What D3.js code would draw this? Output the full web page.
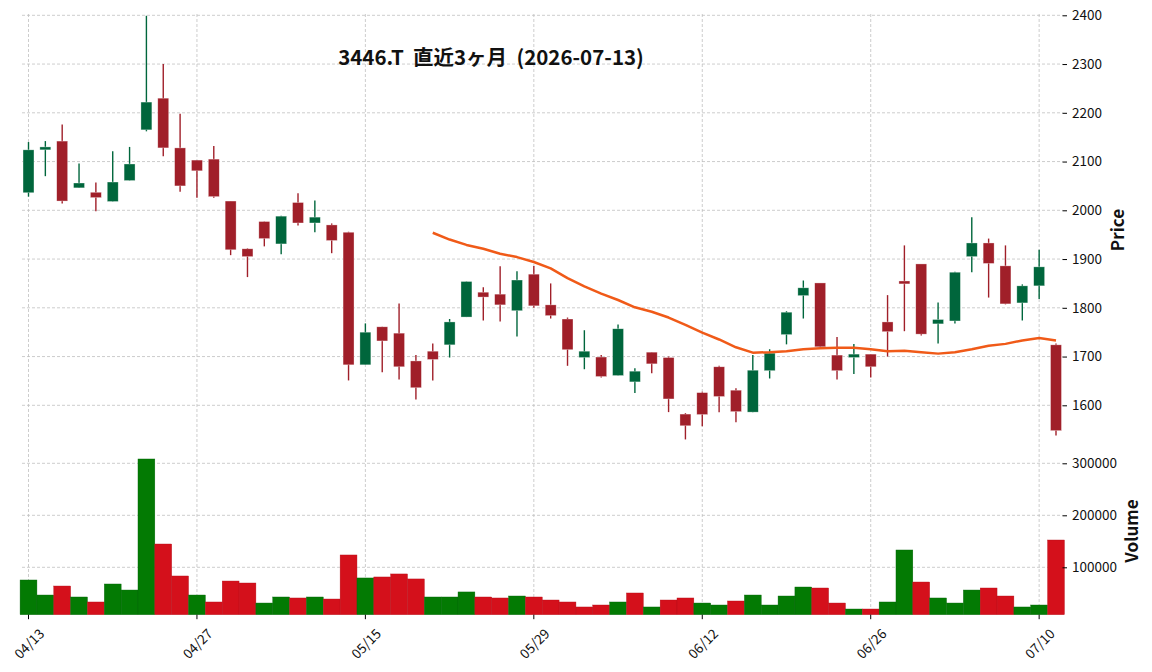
<!DOCTYPE html>
<html>
<head>
<meta charset="utf-8">
<script src="https://cdn.jsdelivr.net/npm/d3@7"></script>
<style>
  html, body { margin: 0; padding: 0; background: #ffffff; }
  svg { display: block; }
  text { font-family: "Noto Sans CJK JP", "Noto Sans", sans-serif; }
</style>
</head>
<body>
<svg id="chart" width="1152" height="672"></svg>
<script>
// ---------------- data ----------------
const titleText = "3446.T  直近3ヶ月  (2026-07-13)";

const dates = ["04/13","04/14","04/15","04/16","04/17","04/20","04/21","04/22","04/23","04/24",
  "04/27","04/28","04/30","05/01","05/07","05/08","05/11","05/12","05/13","05/14",
  "05/15","05/18","05/19","05/20","05/21","05/22","05/25","05/26","05/27","05/28",
  "05/29","06/01","06/02","06/03","06/04","06/05","06/08","06/09","06/10","06/11",
  "06/12","06/15","06/16","06/17","06/18","06/19","06/22","06/23","06/24","06/25",
  "06/26","06/29","06/30","07/01","07/02","07/03","07/06","07/07","07/08","07/09",
  "07/10","07/13"];

const opens = [2036,2124,2142,2046,2037,2018,2061,2165,2230,2128,
  2103,2105,2019,1921,1977,1931,2016,1974,1970,1955,
  1683,1761,1748,1691,1711,1724,1781,1832,1828,1794,
  1869,1806,1777,1698,1699,1661,1648,1709,1698,1582,
  1626,1679,1631,1586,1671,1745,1825,1851,1703,1698,
  1705,1771,1855,1890,1767,1773,1905,1933,1886,1810,
  1845,1724];

const highs = [2140,2142,2176,2096,2057,2121,2130,2399,2300,2198,
  2103,2132,2019,1922,1977,1989,2035,2020,1973,1956,
  1768,1761,1809,1703,1727,1777,1854,1842,1885,1875,
  1886,1850,1780,1754,1703,1766,1676,1709,1700,1584,
  1628,1681,1635,1703,1715,1793,1856,1851,1740,1726,
  1705,1826,1928,1890,1811,1874,1986,1942,1928,1848,
  1919,1727];

const lows = [2028,2070,2014,2046,1998,2018,2061,2162,2111,2038,
  2026,2026,1908,1863,1926,1910,1969,1955,1912,1651,
  1683,1668,1653,1612,1651,1698,1781,1774,1772,1741,
  1800,1778,1681,1674,1657,1661,1625,1666,1586,1530,
  1557,1586,1565,1586,1655,1725,1778,1719,1653,1664,
  1657,1700,1752,1743,1727,1768,1873,1821,1807,1774,
  1818,1538];

const closes = [2124,2130,2019,2056,2026,2058,2095,2222,2128,2050,
  2081,2028,1919,1905,1942,1988,1974,1986,1938,1683,
  1750,1732,1679,1636,1694,1771,1854,1822,1806,1857,
  1804,1784,1714,1711,1659,1757,1670,1685,1613,1558,
  1581,1618,1587,1672,1707,1791,1841,1720,1671,1705,
  1679,1751,1849,1746,1776,1873,1933,1891,1808,1845,
  1884,1548];

const volumes = [75600,46700,64000,42900,33300,67900,56300,308300,144800,83300,
  46700,33300,73600,69800,31300,42900,41000,42900,39000,123700,
  79500,81400,87200,77600,42900,42900,52600,42900,41000,44800,
  42900,37100,33300,23700,27500,33300,50600,23700,37100,41000,
  31300,27500,35200,46700,27500,44800,62100,60200,31300,19800,
  19800,33300,133300,71700,41000,31300,56300,60200,44800,23700,
  27500,152500];

// 25-day moving average as drawn (starts at index 24)
const maStart = 24;
const ma25 = [1954,1940,1929,1921,1911,1904,1894,1881,1861,1844,
  1829,1816,1801,1792,1780,1765,1749,1735,1719,1708,
  1709,1711,1715,1717,1718,1718,1715,1711,1712,1709,
  1706,1709,1715,1722,1726,1733,1738,1733];

const xTickIdx = [0,10,20,30,40,50,60];
const priceTicks = [1600,1700,1800,1900,2000,2100,2200,2300,2400];
const volumeTicks = [100000,200000,300000];

// ---------------- layout ----------------
const C = {
  left: 22, right: 1062.5,
  pTop: 14, pBottom: 442,
  vTop: 442, vBottom: 614.7,
  upCandle: "#00663c", downCandle: "#a01f29",
  upVol: "#037a03", downVol: "#d4101b",
  ma: "#f05a18", grid: "#c0c0c0", text: "#111111"
};

const svg = d3.select("#chart");
svg.append("rect").attr("width", 1152).attr("height", 672).attr("fill", "#fff");

const n = dates.length;
const x = d3.scaleLinear().domain([-0.386, n - 1 + 0.386]).range([C.left, C.right]);
const step = x(1) - x(0);

// price: 2400 -> 15.3, 1600 -> 405.3
const yP = d3.scaleLinear().domain([1600, 2400]).range([405.3, 15.3]);
// volume: 0 -> 619.3, 100000 -> 567.3
const yV = d3.scaleLinear().domain([0, 100000]).range([619.3, 567.3]);
const vBase = yV.invert(C.vBottom);

// ---------------- grid ----------------
const grid = svg.append("g").attr("stroke", C.grid).attr("stroke-width", 0.8)
  .attr("stroke-dasharray", "3,2").attr("fill", "none");
priceTicks.forEach(t => grid.append("line")
  .attr("x1", C.left).attr("x2", C.right).attr("y1", yP(t)).attr("y2", yP(t)));
volumeTicks.forEach(t => grid.append("line")
  .attr("x1", C.left).attr("x2", C.right).attr("y1", yV(t)).attr("y2", yV(t)));
xTickIdx.forEach(i => grid.append("line")
  .attr("x1", x(i)).attr("x2", x(i)).attr("y1", C.pTop).attr("y2", C.vBottom));

// ---------------- title ----------------
svg.append("text").attr("x", 491).attr("y", 65)
  .attr("text-anchor", "middle").attr("font-size", 20.5).attr("font-weight", "bold")
  .attr("xml:space", "preserve").style("white-space", "pre")
  .attr("fill", C.text).text(titleText);

// ---------------- volume ----------------
const vg = svg.append("g");
volumes.forEach((v, i) => {
  const up = i === 0 ? closes[i] >= opens[i] : closes[i] >= closes[i - 1];
  vg.append("rect")
    .attr("x", x(i) - step / 2).attr("width", step)
    .attr("y", yV(v)).attr("height", yV(vBase) - yV(v))
    .attr("fill", up ? C.upVol : C.downVol)
    .attr("stroke", up ? "#05660a" : "#b50f19").attr("stroke-width", 0.4);
});

// ---------------- candles ----------------
const cg = svg.append("g");
const bw = step * 0.65;
dates.forEach((d, i) => {
  const o = opens[i], c = closes[i], h = highs[i], l = lows[i];
  const col = c >= o ? C.upCandle : C.downCandle;
  cg.append("line").attr("x1", x(i)).attr("x2", x(i))
    .attr("y1", yP(h)).attr("y2", yP(l))
    .attr("stroke", col).attr("stroke-width", 1.4);
  const top = yP(Math.max(o, c)), bot = yP(Math.min(o, c));
  cg.append("rect").attr("x", x(i) - bw / 2).attr("width", bw)
    .attr("y", top).attr("height", Math.max(bot - top, 1))
    .attr("fill", col).attr("stroke", "rgba(255,255,255,0.55)").attr("stroke-width", 0.6);
});

// ---------------- moving average ----------------
const line = d3.line().x(d => x(d[0])).y(d => yP(d[1]));
svg.append("path")
  .datum(ma25.map((v, k) => [maStart + k, v]))
  .attr("d", line).attr("fill", "none")
  .attr("stroke", C.ma).attr("stroke-width", 2.5).attr("stroke-linejoin", "round");

// ---------------- right axes ----------------
const pAxis = d3.axisRight(yP).tickValues(priceTicks).tickSize(4.5).tickPadding(5).tickFormat(d3.format("d"));
const vAxis = d3.axisRight(yV).tickValues(volumeTicks).tickSize(4.5).tickPadding(5).tickFormat(d3.format("d"));
[pAxis, vAxis].forEach(ax => {
  const g = svg.append("g").attr("transform", `translate(${C.right},0)`).call(ax);
  g.select(".domain").remove();
  g.selectAll(".tick line").attr("stroke", "#000").attr("stroke-width", 1);
  g.selectAll(".tick text").attr("font-size", 13.5).attr("fill", C.text)
    .attr("font-family", '"Noto Sans CJK JP", "Noto Sans", sans-serif');
});

svg.append("text").attr("transform", "translate(1124,230) rotate(-90)")
  .attr("text-anchor", "middle").attr("font-size", 17).attr("font-weight", "bold")
  .attr("fill", C.text).text("Price");
svg.append("text").attr("transform", "translate(1138,531) rotate(-90)")
  .attr("text-anchor", "middle").attr("font-size", 17).attr("font-weight", "bold")
  .attr("fill", C.text).text("Volume");

// ---------------- x axis ----------------
const xg = svg.append("g");
xTickIdx.forEach(i => {
  xg.append("line").attr("x1", x(i)).attr("x2", x(i))
    .attr("y1", C.vBottom).attr("y2", C.vBottom + 4.5)
    .attr("stroke", "#000").attr("stroke-width", 1);
  xg.append("text")
    .attr("transform", `translate(${x(i)},${643}) rotate(-45)`)
    .attr("text-anchor", "middle").attr("dominant-baseline", "central")
    .attr("font-size", 13.5).attr("fill", C.text).text(dates[i]);
});
</script>
</body>
</html>
